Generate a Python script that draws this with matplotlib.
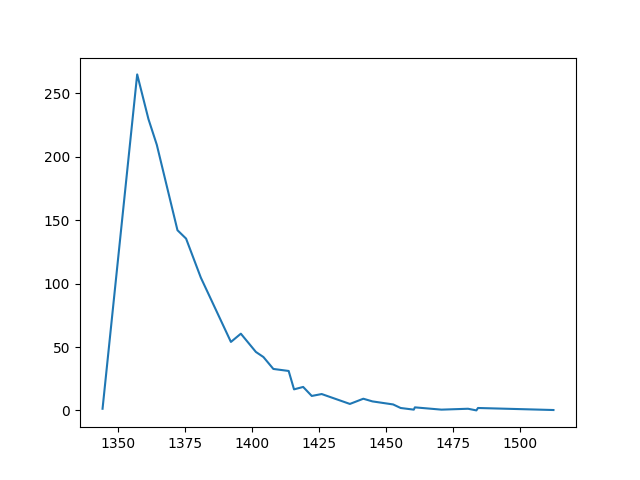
import matplotlib
matplotlib.use('Agg')
import matplotlib.pyplot as plt

# wartości
x = [1344.4, 1357.3, 1361.5, 1364.6, 1372.3, 1375.5, 1381.0, 1392.2, 1395.9,
     1401.5, 1404.3, 1408.0, 1413.7, 1415.7, 1419.1, 1422.3, 1426.0, 1436.5,
     1441.5, 1444.9, 1452.6, 1455.4, 1460.3, 1460.7, 1470.6, 1480.5, 1483.6,
     1484.2, 1512.3]
y = [1.3, 265.0, 229.7, 209.5, 142.1, 135.5, 104.7, 54.0, 60.5,
     46.1, 42.1, 32.7, 31.1, 16.6, 18.5, 11.4, 12.9, 5.1,
     9.2, 7.1, 4.7, 1.9, 0.6, 2.4, 0.6, 1.3, 0.0,
     1.9, 0.3]

plt.figure(figsize=(6.4, 4.8), dpi=100)
plt.plot(x, y)
plt.savefig('out.png')
